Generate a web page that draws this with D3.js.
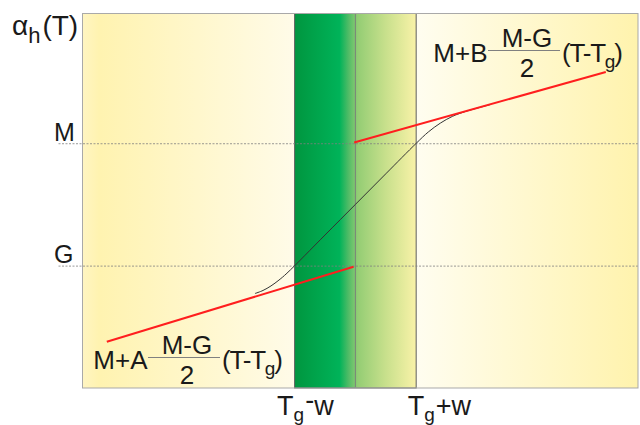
<!DOCTYPE html>
<html>
<head>
<meta charset="utf-8">
<script src="https://cdn.jsdelivr.net/npm/d3@7"></script>
<style>
  html, body { margin: 0; padding: 0; background: #ffffff; }
  svg { display: block; font-family: "Liberation Sans", Arial, sans-serif; }
</style>
</head>
<body>
<svg id="chart" width="640" height="425"></svg>
<script>
// Temperature axis in units of w, centred on T_g; level axis with G = 0, M = 1.
const tDomain = [-4.49, 4.65];
const levelDomain = [-1.0, 2.06];

// Transition band edges (T_g - w, T_g + w) and the glass temperature itself
const bandEdges = [-1, 1];
const bandLabels = [["T", "g", "-", "w"], ["T", "g", "+", "w"]];
const tg = 0;

// Reference levels
const levelValues = [0, 1];
const levelNames = ["G", "M"];

// Smoothed transition curve α_h(T)
const curveT = [-1.652, -1.520, -1.389, -1.257, -1.126, -0.5, 0, 0.5, 1.002, 1.200, 1.397, 1.595, 1.792, 2.215];
const curveV = [-0.228, -0.203, -0.166, -0.118, -0.062, 0.250, 0.5, 0.750, 1.000, 1.092, 1.164, 1.219, 1.256, 1.315];

// Asymptotic linear branches (end points)
const lowerBranchT = [-4.09, -0.03];
const lowerBranchV = [-0.622, -0.009];
const upperBranchT = [-0.02, 4.12];
const upperBranchV = [1.006, 1.582];

const W = 640, H = 425;
const frame = { left: 82.5, top: 13.5, right: 638, bottom: 388 };

const svg = d3.select("#chart");
const x = d3.scaleLinear().domain(tDomain).range([frame.left, frame.right]);
const y = d3.scaleLinear().domain(levelDomain).range([frame.bottom, frame.top]);

const defs = svg.append("defs");

// Pale yellow background: strong at both sides, nearly white in the middle
const bg = defs.append("linearGradient").attr("id", "bgGrad")
  .attr("x1", 0).attr("x2", 1).attr("y1", 0).attr("y2", 0);
[[0, "#fff5c2"], [0.03, "#fff3b0"], [0.38, "#fffbe8"], [0.6, "#fffdf0"], [1, "#fff3ad"]]
  .forEach(([o, c]) => bg.append("stop").attr("offset", o).attr("stop-color", c));

// Green band fading into yellow towards T_g + w
const gg = defs.append("linearGradient").attr("id", "bandGrad")
  .attr("x1", 0).attr("x2", 1).attr("y1", 0).attr("y2", 0);
[[0, "#00963f"], [0.37, "#00b359"], [0.44, "#4dbb66"], [0.52, "#94cd74"], [0.75, "#c8e08c"], [1, "#f9f2a8"]]
  .forEach(([o, c]) => gg.append("stop").attr("offset", o).attr("stop-color", c));

// Background panel
svg.append("rect")
  .attr("x", frame.left).attr("y", frame.top)
  .attr("width", frame.right - frame.left).attr("height", frame.bottom - frame.top)
  .attr("fill", "url(#bgGrad)");

// Transition band
svg.append("rect")
  .attr("x", x(bandEdges[0])).attr("y", frame.top)
  .attr("width", x(bandEdges[1]) - x(bandEdges[0]))
  .attr("height", frame.bottom - frame.top)
  .attr("fill", "url(#bandGrad)")
  .attr("stroke", "#5e5e5e").attr("stroke-width", 1);

// T_g marker
svg.append("line")
  .attr("x1", x(tg)).attr("x2", x(tg))
  .attr("y1", frame.top).attr("y2", frame.bottom)
  .attr("stroke", "#7a7a7a").attr("stroke-width", 0.9);

// Level axis: dotted guide lines across the panel with M / G labels
const labelLeft = 57;
const yAxis = d3.axisLeft(y)
  .tickValues(levelValues)
  .tickFormat((d, i) => levelNames[i])
  .tickSize(frame.right - labelLeft)
  .tickPadding(0);
const yAxisG = svg.append("g")
  .attr("transform", `translate(${frame.right},0)`)
  .call(yAxis);
yAxisG.select(".domain").remove();
yAxisG.selectAll(".tick line")
  .attr("stroke", "#808080").attr("stroke-width", 0.8)
  .attr("stroke-dasharray", "2,1.5");
yAxisG.selectAll(".tick text")
  .attr("x", -(frame.right - labelLeft) - 3)
  .attr("dy", -3)
  .attr("text-anchor", "start")
  .attr("font-size", 25)
  .attr("font-family", "'Liberation Sans', Arial, sans-serif")
  .attr("fill", "#1a1a1a");

// Transition curve
const curvePts = curveT.map((t, i) => [t, curveV[i]]);
svg.append("path")
  .datum(curvePts)
  .attr("d", d3.line().x(d => x(d[0])).y(d => y(d[1])).curve(d3.curveCatmullRom.alpha(0.5)))
  .attr("fill", "none").attr("stroke", "#333333").attr("stroke-width", 1);

// Linear branches
const branches = [
  lowerBranchT.map((t, i) => [t, lowerBranchV[i]]),
  upperBranchT.map((t, i) => [t, upperBranchV[i]])
];
svg.selectAll(".branch").data(branches).join("path")
  .attr("class", "branch")
  .attr("d", d3.line().x(d => x(d[0])).y(d => y(d[1])))
  .attr("fill", "none").attr("stroke", "#ff1e1e").attr("stroke-width", 2);

// Panel outline
svg.append("rect")
  .attr("x", frame.left).attr("y", frame.top)
  .attr("width", frame.right - frame.left).attr("height", frame.bottom - frame.top)
  .attr("fill", "none").attr("stroke", "#a9a9a9").attr("stroke-width", 1);

// Temperature axis labels at the band edges
const xAxis = d3.axisBottom(x).tickValues(bandEdges).tickSize(0).tickFormat("");
const xAxisG = svg.append("g")
  .attr("transform", `translate(0,${frame.bottom})`)
  .call(xAxis);
xAxisG.select(".domain").remove();
const labelShift = [-18, -9];
xAxisG.selectAll(".tick").each(function (d, i) {
  const parts = bandLabels[i];
  const t = d3.select(this).append("text")
    .attr("x", labelShift[i]).attr("y", 27)
    .attr("text-anchor", "start")
    .attr("font-size", 27)
    .attr("font-family", "'Liberation Sans', Arial, sans-serif")
    .attr("fill", "#1a1a1a");
  t.append("tspan").text(parts[0]);
  t.append("tspan").attr("font-size", 19).attr("dy", 5.5).text(parts[1]);
  t.append("tspan").attr("dy", parts[2] === "-" ? -12 : -5.5).attr("dx", 1).text(parts[2]);
  t.append("tspan").attr("dy", parts[2] === "-" ? 6.5 : 0).text(parts[3]);
});

// Title α_h(T)
const title = svg.append("text")
  .attr("x", 12).attr("y", 35)
  .attr("font-size", 28).attr("fill", "#1a1a1a");
title.append("tspan").text("α");
title.append("tspan").attr("font-size", 22).attr("dy", 7.5).text("h");
title.append("tspan").attr("dy", -7.5).attr("dx", 2).text("(T)");

// Branch formulas
function formula(x0, base, coef) {
  const g = svg.append("g").attr("font-size", 26).attr("fill", "#1a1a1a");
  const lead = g.append("text").attr("x", x0).attr("y", base).text("M+" + coef);
  const lx = x0 + lead.node().getComputedTextLength() + 0.5;
  const len = 72;
  g.append("line")
    .attr("x1", lx).attr("x2", lx + len)
    .attr("y1", base - 11.5).attr("y2", base - 11.5)
    .attr("stroke", "#808080").attr("stroke-width", 1);
  g.append("text").attr("x", lx + 39).attr("y", base - 15)
    .attr("text-anchor", "middle").text("M-G");
  g.append("text").attr("x", lx + 39).attr("y", base + 15)
    .attr("text-anchor", "middle").text("2");
  const tail = g.append("text").attr("x", lx + len + 2).attr("y", base)
    .attr("letter-spacing", -1.2);
  tail.append("tspan").text("(T-T");
  tail.append("tspan").attr("font-size", 19).attr("dy", 6).text("g");
  tail.append("tspan").attr("dy", -6).text(")");
}
formula(93.3, 369, "A");
formula(433.3, 62, "B");
</script>
</body>
</html>
